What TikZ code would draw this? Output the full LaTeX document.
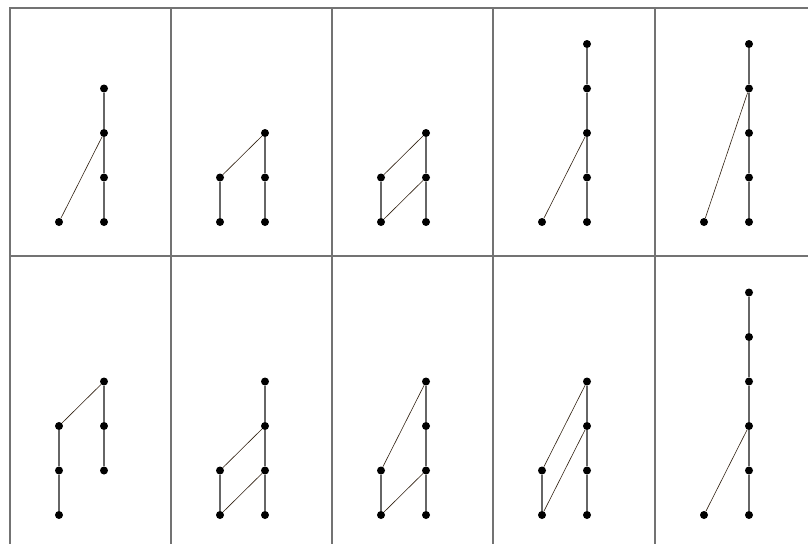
\documentclass[tikz,border=0pt]{standalone}
\usepackage{tikz}
\tikzset{
  frameS/.style ={draw=black!55, line width=1.3pt},
  dot/.style    ={circle, fill=black, inner sep=0pt, minimum size=8pt},
  chainS/.style ={draw=black!60, line width=1.5pt},
  linkS/.style  ={draw=black!75!brown, line width=0.6pt},
}

\begin{document}
\begin{tikzpicture}[x=1pt,y=-1pt]
  \useasboundingbox (0,0) rectangle (808,544);
  % table frame
  \draw[frameS] (808,8) -- (10,8) -- (10,544);
  \draw[frameS] (10,256) -- (808,256);
  \foreach \x in {171,332,493,655}{\draw[frameS] (\x,8) -- (\x,544);}
  % top row
  \begin{scope}[shift={(10,222)}]
    \foreach \k in {0,...,3}{\node[dot] (Ar\k) at (94,-44.5*\k){};}
    \node[dot] (Al0) at (49,0){};
    \draw[chainS] (Ar0) -- (Ar1) -- (Ar2) -- (Ar3);
    \draw[linkS] (Al0) -- (Ar2);
  \end{scope}
  \begin{scope}[shift={(171,222)}]
    \foreach \k in {0,...,2}{\node[dot] (Br\k) at (94,-44.5*\k){};}
    \foreach \k in {0,1}{\node[dot] (Bl\k) at (49,-44.5*\k){};}
    \draw[chainS] (Br0) -- (Br1) -- (Br2);
    \draw[chainS] (Bl0) -- (Bl1);
    \draw[linkS] (Bl1) -- (Br2);
  \end{scope}
  \begin{scope}[shift={(332,222)}]
    \foreach \k in {0,...,2}{\node[dot] (Cr\k) at (94,-44.5*\k){};}
    \foreach \k in {0,1}{\node[dot] (Cl\k) at (49,-44.5*\k){};}
    \draw[chainS] (Cr0) -- (Cr1) -- (Cr2);
    \draw[chainS] (Cl0) -- (Cl1);
    \draw[linkS] (Cl1) -- (Cr2);
    \draw[linkS] (Cl0) -- (Cr1);
  \end{scope}
  \begin{scope}[shift={(493,222)}]
    \foreach \k in {0,...,4}{\node[dot] (Dr\k) at (94,-44.5*\k){};}
    \node[dot] (Dl0) at (49,0){};
    \draw[chainS] (Dr0) -- (Dr1) -- (Dr2) -- (Dr3) -- (Dr4);
    \draw[linkS] (Dl0) -- (Dr2);
  \end{scope}
  \begin{scope}[shift={(655,222)}]
    \foreach \k in {0,...,4}{\node[dot] (Er\k) at (94,-44.5*\k){};}
    \node[dot] (El0) at (49,0){};
    \draw[chainS] (Er0) -- (Er1) -- (Er2) -- (Er3) -- (Er4);
    \draw[linkS] (El0) -- (Er3);
  \end{scope}
  % bottom row
  \begin{scope}[shift={(10,515)}]
    \foreach \k in {1,...,3}{\node[dot] (Fr\k) at (94,-44.5*\k){};}
    \foreach \k in {0,...,2}{\node[dot] (Fl\k) at (49,-44.5*\k){};}
    \draw[chainS] (Fr1) -- (Fr2) -- (Fr3);
    \draw[chainS] (Fl0) -- (Fl1) -- (Fl2);
    \draw[linkS] (Fl2) -- (Fr3);
  \end{scope}
  \begin{scope}[shift={(171,515)}]
    \foreach \k in {0,...,3}{\node[dot] (Gr\k) at (94,-44.5*\k){};}
    \foreach \k in {0,1}{\node[dot] (Gl\k) at (49,-44.5*\k){};}
    \draw[chainS] (Gr0) -- (Gr1) -- (Gr2) -- (Gr3);
    \draw[chainS] (Gl0) -- (Gl1);
    \draw[linkS] (Gl1) -- (Gr2);
    \draw[linkS] (Gl0) -- (Gr1);
  \end{scope}
  \begin{scope}[shift={(332,515)}]
    \foreach \k in {0,...,3}{\node[dot] (Hr\k) at (94,-44.5*\k){};}
    \foreach \k in {0,1}{\node[dot] (Hl\k) at (49,-44.5*\k){};}
    \draw[chainS] (Hr0) -- (Hr1) -- (Hr2) -- (Hr3);
    \draw[chainS] (Hl0) -- (Hl1);
    \draw[linkS] (Hl1) -- (Hr3);
    \draw[linkS] (Hl0) -- (Hr1);
  \end{scope}
  \begin{scope}[shift={(493,515)}]
    \foreach \k in {0,...,3}{\node[dot] (Ir\k) at (94,-44.5*\k){};}
    \foreach \k in {0,1}{\node[dot] (Il\k) at (49,-44.5*\k){};}
    \draw[chainS] (Ir0) -- (Ir1) -- (Ir2) -- (Ir3);
    \draw[chainS] (Il0) -- (Il1);
    \draw[linkS] (Il1) -- (Ir3);
    \draw[linkS] (Il0) -- (Ir2);
  \end{scope}
  \begin{scope}[shift={(655,515)}]
    \foreach \k in {0,...,5}{\node[dot] (Jr\k) at (94,-44.5*\k){};}
    \node[dot] (Jl0) at (49,0){};
    \draw[chainS] (Jr0) -- (Jr1) -- (Jr2) -- (Jr3) -- (Jr4) -- (Jr5);
    \draw[linkS] (Jl0) -- (Jr2);
  \end{scope}
\end{tikzpicture}
\end{document}
